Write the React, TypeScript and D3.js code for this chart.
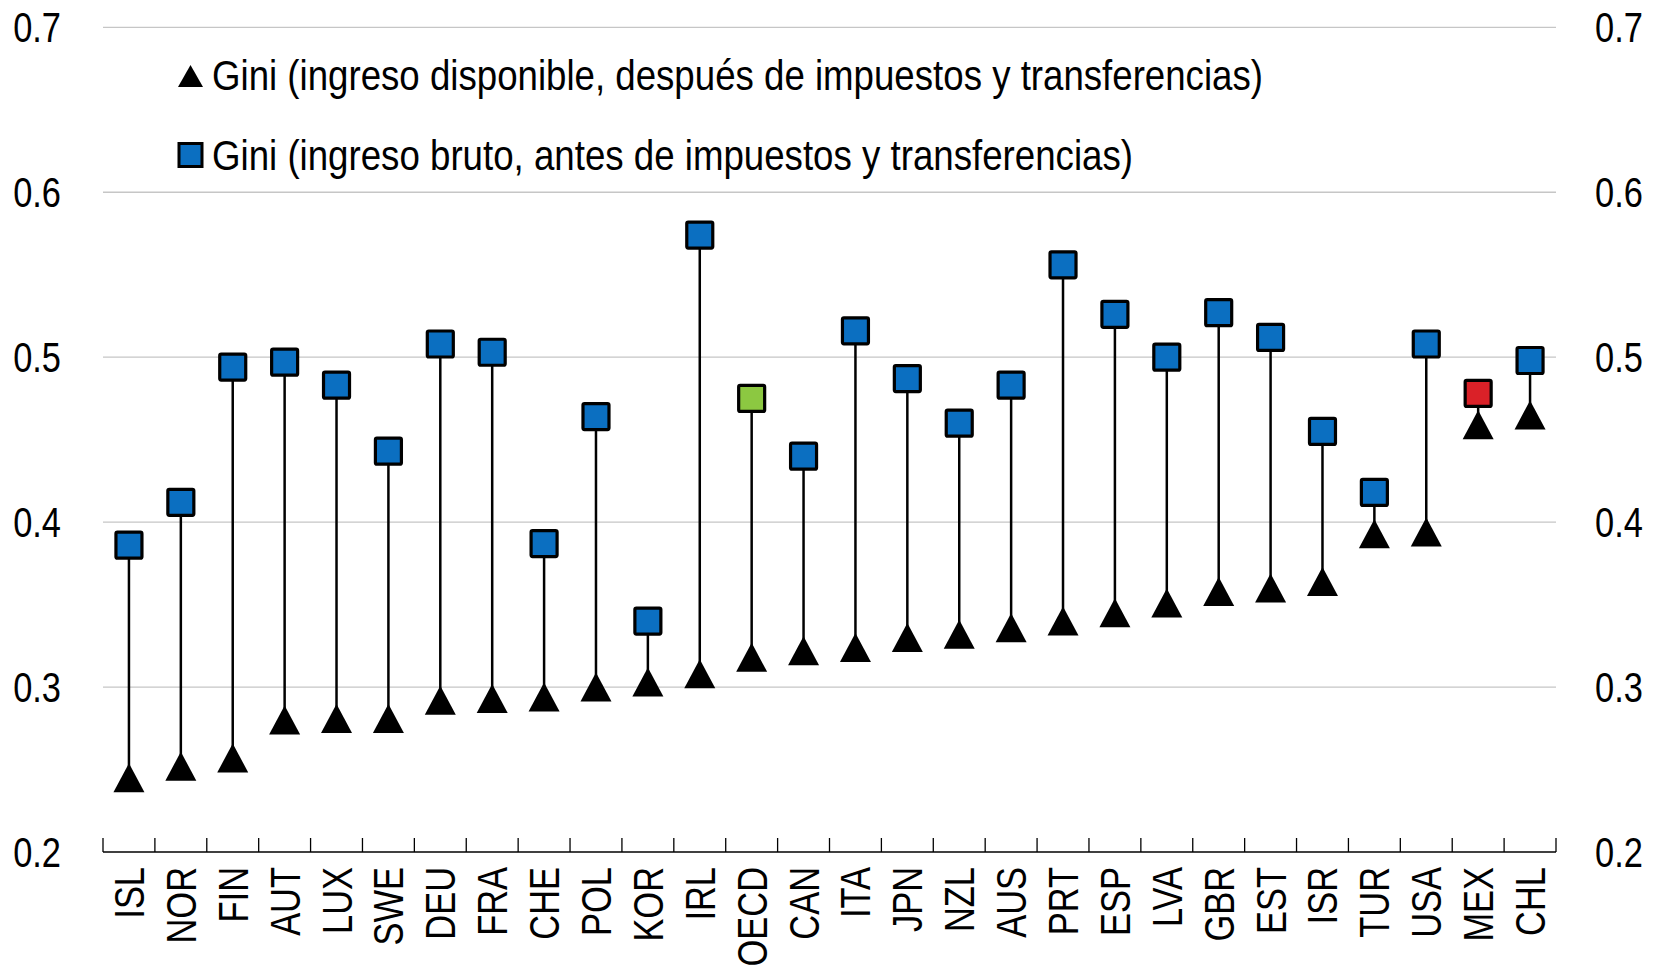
import React, { useRef, useEffect } from 'react';
import * as d3 from 'd3';

// Country codes, left to right
const countries = [
    'ISL', 'NOR', 'FIN', 'AUT', 'LUX', 'SWE', 'DEU', 'FRA', 'CHE', 'POL',
    'KOR', 'IRL', 'OECD', 'CAN', 'ITA', 'JPN', 'NZL', 'AUS', 'PRT', 'ESP',
    'LVA', 'GBR', 'EST', 'ISR', 'TUR', 'USA', 'MEX', 'CHL',
];

// Gini, market income (before taxes and transfers)
const giniMarket = [
    0.386, 0.412, 0.494, 0.497, 0.483, 0.443, 0.508, 0.503, 0.387, 0.464,
    0.340, 0.574, 0.475, 0.440, 0.516, 0.487, 0.460, 0.483, 0.556, 0.526,
    0.500, 0.527, 0.512, 0.455, 0.418, 0.508, 0.478, 0.498,
];

// Gini, disposable income (after taxes and transfers)
const giniDisposable = [
    0.245, 0.252, 0.257, 0.280, 0.281, 0.281, 0.292, 0.293, 0.294, 0.300,
    0.303, 0.308, 0.318, 0.322, 0.324, 0.330, 0.332, 0.336, 0.340, 0.345,
    0.351, 0.358, 0.360, 0.364, 0.393, 0.394, 0.459, 0.465,
];

const yTicks = [0.2, 0.3, 0.4, 0.5, 0.6, 0.7];

const legendLabels = [
    'Gini (ingreso disponible, después de impuestos y transferencias)',
    'Gini (ingreso bruto, antes de impuestos y transferencias)',
];

const WIDTH = 1661;
const HEIGHT = 969;
// no narrow font installed: squeeze regular Liberation Sans instead
const FONT = "'Liberation Sans', Arial, sans-serif";
const NARROW = 0.82;

const BLUE = '#0B6FC1';
const GREEN = '#8CC841';
const RED = '#DA2128';

const squareFill = (c: string) => (c === 'OECD' ? GREEN : c === 'MEX' ? RED : BLUE);

const triPath = (w: number, h: number) =>
    `M0,${-h / 2}L${w / 2},${h / 2}L${-w / 2},${h / 2}Z`;

const App: React.FC = () => {
    const svgRef = useRef<SVGSVGElement | null>(null);

    useEffect(() => {
        if (!svgRef.current) return;

        const plot = { left: 103, right: 1556, top: 27.3, bottom: 852 };

        const svg = d3.select(svgRef.current);
        svg.selectAll('*').remove();

        const x = d3.scaleBand<string>()
            .domain(countries)
            .range([plot.left, plot.right])
            .padding(0);

        const y = d3.scaleLinear()
            .domain([0.2, 0.7])
            .range([plot.bottom, plot.top]);

        const rows = countries.map((c, i) => ({
            c,
            market: giniMarket[i],
            disp: giniDisposable[i],
        }));

        // gridlines
        svg.append('g')
            .selectAll('line')
            .data(yTicks.filter(t => t > 0.2))
            .enter().append('line')
            .attr('x1', plot.left)
            .attr('x2', plot.right)
            .attr('y1', d => y(d))
            .attr('y2', d => y(d))
            .attr('stroke', '#c6c6c6')
            .attr('stroke-width', 1.3);

        // y labels, both sides
        const yLab = svg.append('g')
            .attr('font-family', FONT)
            .attr('font-size', 42)
            .attr('fill', '#000');
        yLab.selectAll('.yl')
            .data(yTicks)
            .enter().append('text')
            .attr('transform', d => `translate(61,${y(d) + 15}) scale(${NARROW},1)`)
            .attr('text-anchor', 'end')
            .text(d => d.toFixed(1));
        yLab.selectAll('.yr')
            .data(yTicks)
            .enter().append('text')
            .attr('transform', d => `translate(1595,${y(d) + 15}) scale(${NARROW},1)`)
            .attr('text-anchor', 'start')
            .text(d => d.toFixed(1));

        // x axis: ticks on category boundaries pointing up
        const axisY = y(0.2);
        svg.append('line')
            .attr('x1', plot.left)
            .attr('x2', plot.right)
            .attr('y1', axisY)
            .attr('y2', axisY)
            .attr('stroke', '#000')
            .attr('stroke-width', 1.5);
        const bounds = countries.map(c => x(c) as number).concat([plot.right]);
        svg.append('g')
            .selectAll('line')
            .data(bounds)
            .enter().append('line')
            .attr('x1', d => d)
            .attr('x2', d => d)
            .attr('y1', axisY)
            .attr('y2', axisY - 14)
            .attr('stroke', '#000')
            .attr('stroke-width', 1.3);

        // category labels, rotated
        svg.append('g')
            .attr('font-family', FONT)
            .attr('font-size', 42)
            .attr('fill', '#000')
            .selectAll('text')
            .data(countries)
            .enter().append('text')
            .attr('transform', d => {
                const cx = (x(d) as number) + x.bandwidth() / 2 + 15;
                return `translate(${cx},${axisY + 15}) rotate(-90) scale(${NARROW},1)`;
            })
            .attr('text-anchor', 'end')
            .text(d => d);

        const cx = (c: string) => (x(c) as number) + x.bandwidth() / 2;

        // connecting lines
        svg.append('g')
            .selectAll('line')
            .data(rows)
            .enter().append('line')
            .attr('x1', d => cx(d.c))
            .attr('x2', d => cx(d.c))
            .attr('y1', d => y(d.market))
            .attr('y2', d => y(d.disp))
            .attr('stroke', '#000')
            .attr('stroke-width', 2.5);

        // triangles (disposable)
        svg.append('g')
            .selectAll('path')
            .data(rows)
            .enter().append('path')
            .attr('d', triPath(31, 29))
            .attr('transform', d => `translate(${cx(d.c)},${y(d.disp)})`)
            .attr('fill', '#000');

        // squares (market)
        const sq = 26;
        svg.append('g')
            .selectAll('rect')
            .data(rows)
            .enter().append('rect')
            .attr('x', d => cx(d.c) - sq / 2)
            .attr('y', d => y(d.market) - sq / 2)
            .attr('width', sq)
            .attr('height', sq)
            .attr('rx', 1.5)
            .attr('fill', d => squareFill(d.c))
            .attr('stroke', '#000')
            .attr('stroke-width', 3.2);

        // legend
        const leg = svg.append('g');
        leg.append('path')
            .attr('d', triPath(25, 22))
            .attr('transform', 'translate(190.5,76)')
            .attr('fill', '#000');
        leg.append('rect')
            .attr('x', 190.5 - 11.5)
            .attr('y', 155 - 11.5)
            .attr('width', 23)
            .attr('height', 23)
            .attr('fill', BLUE)
            .attr('stroke', '#000')
            .attr('stroke-width', 3);
        leg.selectAll('text')
            .data(legendLabels)
            .enter().append('text')
            .attr('x', 212)
            .attr('y', (_, i) => (i === 0 ? 90 : 170))
            .attr('font-family', FONT)
            .attr('font-size', 42)
            .attr('fill', '#000')
            .attr('textLength', (_, i) => (i === 0 ? 1051 : 921))
            .attr('lengthAdjust', 'spacingAndGlyphs')
            .text(d => d);
    }, []);

    return (
        <svg
            ref={svgRef}
            width={WIDTH}
            height={HEIGHT}
            style={{ position: 'absolute', left: 0, top: 0, background: '#fff' }}
        />
    );
};

export default App;
